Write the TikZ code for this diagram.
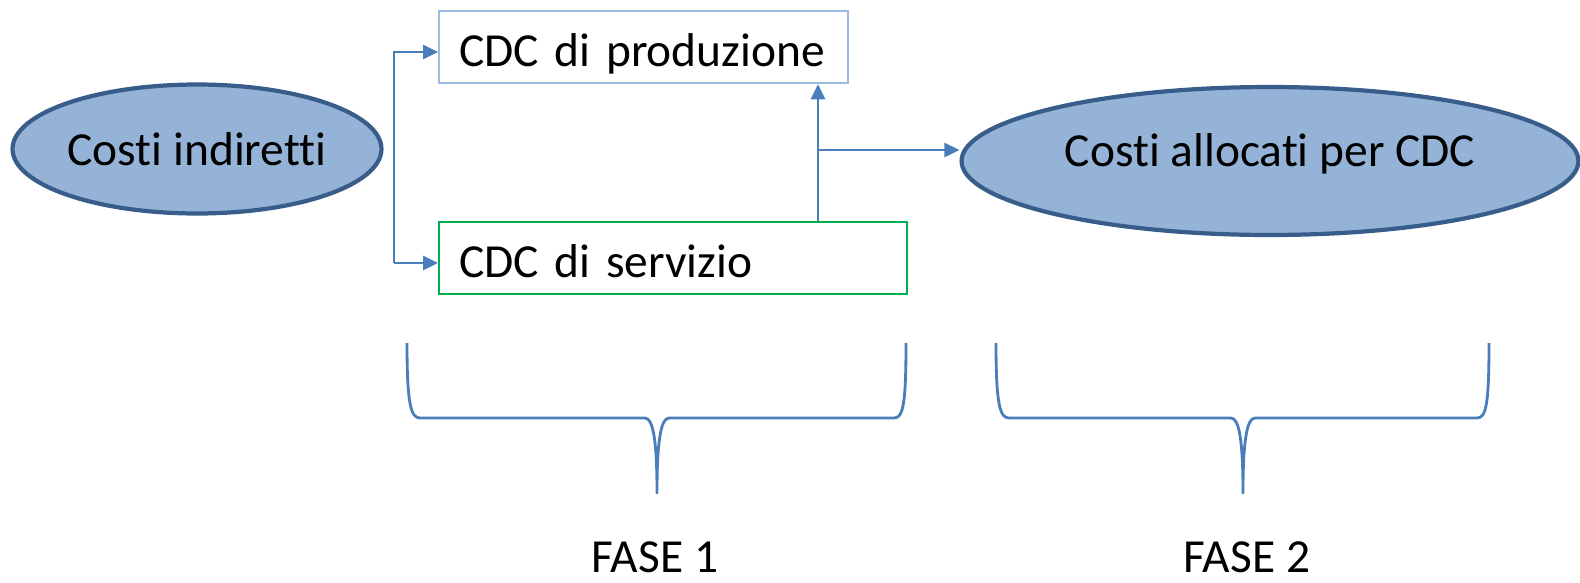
\documentclass[tikz,border=0pt]{standalone}
\usepackage{fontspec}
\setmainfont{Carlito}[Ligatures=NoCommon]
\usetikzlibrary{shapes.geometric,arrows.meta}

\definecolor{lineablu}{HTML}{4A7EBB}
\definecolor{riempblu}{HTML}{95B3D7}
\definecolor{bordoblu}{HTML}{385D8A}
\definecolor{bordochiaro}{HTML}{9BBBE0}
\definecolor{verde}{HTML}{00B050}

\begin{document}
\begin{tikzpicture}[x=0.02cm,y=-0.02cm,
   font=\fontsize{27}{32}\selectfont,
   costo/.style={ellipse,draw=bordoblu,fill=riempblu,line width=2.4pt,inner sep=0pt},
   cdc/.style={rectangle,line width=1.3pt,anchor=north west,align=left,
      minimum height=1.44cm,inner xsep=0.4cm,inner ysep=0.1cm,
      text height=0.96cm,text depth=0.2cm},
   freccia/.style={draw=lineablu,line width=1.5pt,-{Triangle[length=0.3cm,width=0.28cm]}},
   graffa/.style={draw=lineablu,line width=1.6pt,line join=round}]
   \useasboundingbox (0,0) rectangle (1580,582);

   \node[costo,minimum width=7.38cm,minimum height=2.58cm] (ind) at (197,149) {Costi indiretti};
   \node[cdc,draw=bordochiaro,text width=7.38cm] (prod) at (438,10) {CDC di produzione};
   \node[cdc,draw=verde,text width=8.56cm] (serv) at (438,221) {CDC di servizio};
   \node[costo,minimum width=12.34cm,minimum height=2.96cm,
      text height=0.75cm,text depth=0.55cm] (alloc) at (1270,161) {Costi allocati per CDC};

   \coordinate (diram1) at (394,52);
   \coordinate (diram2) at (394,263);
   \coordinate (snodo) at (818,150);

   \draw[freccia] (diram2) -- (diram1) -- (diram1 -| prod.west);
   \draw[freccia] (diram2) -- (diram2 -| serv.west);
   \draw[freccia] (serv.north -| snodo) -- (prod.south -| snodo);
   \draw[freccia] (snodo) -- (snodo -| alloc.west);

   % graffe sotto le due fasi
   \coordinate (punta1) at (657,493);
   \coordinate (punta2) at (1243,493);
   \draw[graffa] (407,343) .. controls (407,405) and (411,418) .. (420,418) -- (645,418)
      .. controls (653,418) and (657,440) .. (punta1)
      .. controls (657,440) and (661,418) .. (669,418) -- (894,418)
      .. controls (903,418) and (906,405) .. (906,343);
   \draw[graffa] (996,343) .. controls (996,405) and (1000,418) .. (1009,418) -- (1231,418)
      .. controls (1239,418) and (1243,440) .. (punta2)
      .. controls (1243,440) and (1247,418) .. (1255,418) -- (1477,418)
      .. controls (1486,418) and (1489,405) .. (1489,343);

   \node (fase1) at (655,557) {FASE 1};
   \node (fase2) at (1247,557) {FASE 2};
\end{tikzpicture}
\end{document}
